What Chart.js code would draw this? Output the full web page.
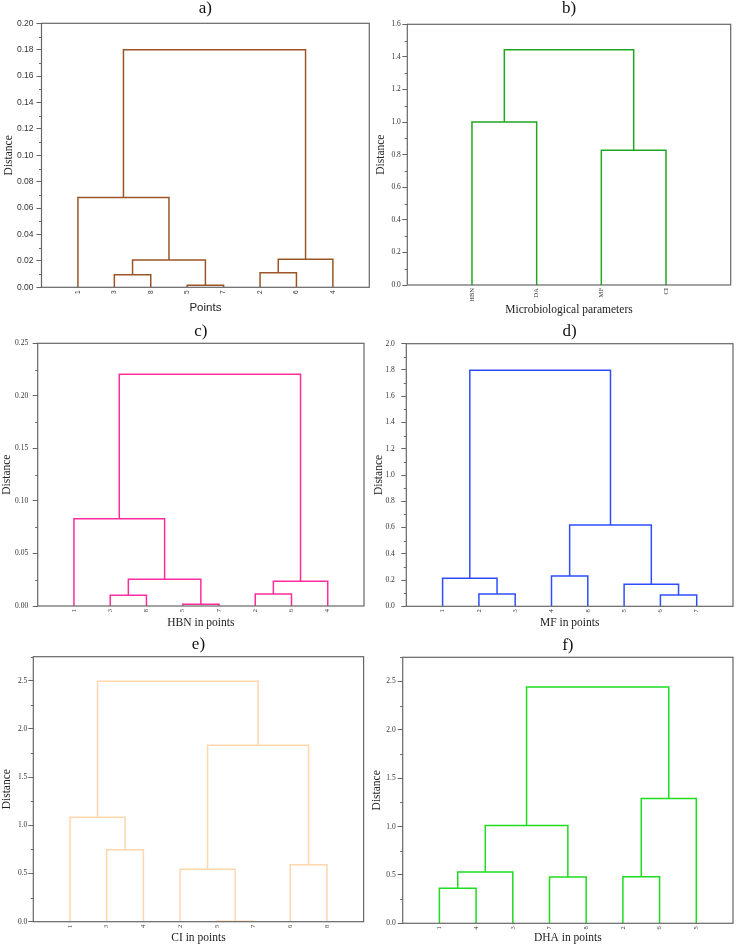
<!DOCTYPE html>
<html>
<head>
<meta charset="utf-8">
<script src="https://cdn.jsdelivr.net/npm/chart.js@4.4.1/dist/chart.umd.min.js"></script>
<style>
  html, body { margin: 0; padding: 0; background: #fff; }
  body { width: 736px; height: 945px; position: relative; overflow: hidden; }
  canvas { position: absolute; }
</style>
</head>
<body>
<canvas id="ca"></canvas>
<canvas id="cb"></canvas>
<canvas id="cc"></canvas>
<canvas id="cd"></canvas>
<canvas id="ce"></canvas>
<canvas id="cf"></canvas>
<script>
// leaf order on the x axis, then merges as [left node, right node, distance]
// a node below leaves.length is a leaf, otherwise it is merge (node - leaves.length)
const leavesA = ["1", "3", "8", "5", "7", "2", "6", "4"];
const mergesA = [[3, 4, 0.0015], [1, 2, 0.0095], [5, 6, 0.011], [9, 8, 0.0207], [10, 7, 0.0212], [0, 11, 0.068], [13, 12, 0.18]];

const leavesB = ["HBN", "DA", "MF", "CI"];
const mergesB = [[0, 1, 1.0], [2, 3, 0.827], [4, 5, 1.444]];

const leavesC = ["1", "3", "8", "5", "7", "2", "6", "4"];
const mergesC = [[3, 4, 0.0016], [1, 2, 0.0102], [5, 6, 0.0114], [9, 8, 0.0254], [10, 7, 0.0235], [0, 11, 0.0831], [13, 12, 0.2205]];

const leavesD = ["1", "2", "3", "4", "8", "5", "6", "7"];
const mergesD = [[1, 2, 0.094], [6, 7, 0.086], [3, 4, 0.231], [0, 8, 0.213], [5, 9, 0.168], [10, 12, 0.619], [11, 13, 1.797]];

const leavesE = ["1", "3", "4", "2", "5", "7", "6", "8"];
const mergesE = [[4, 5, 0.005], [1, 2, 0.747], [6, 7, 0.591], [3, 8, 0.544], [0, 9, 1.083], [11, 10, 1.83], [12, 13, 2.494]];

const leavesF = ["1", "4", "3", "7", "8", "2", "6", "5"];
const mergesF = [[0, 1, 0.362], [3, 4, 0.478], [5, 6, 0.482], [8, 2, 0.53], [11, 9, 1.012], [10, 7, 1.291], [12, 13, 2.444]];

const SERIF = "'Liberation Serif', 'Times New Roman', serif";
const SANS = "'Liberation Sans', Arial, sans-serif";

// turn merges into U shaped links in data units (leaf i sits at x = i + 1)
function buildLinks(leaves, merges) {
  const xs = leaves.map((_, i) => i + 1);
  const hs = leaves.map(() => 0);
  return merges.map(([l, r, d]) => {
    const pts = [
      { x: xs[l], y: hs[l] },
      { x: xs[l], y: d },
      { x: xs[r], y: d },
      { x: xs[r], y: hs[r] }
    ];
    xs.push((xs[l] + xs[r]) / 2);
    hs.push(d);
    return pts;
  });
}

// box frame + short minor ticks on the distance axis
const axisExtras = {
  id: "axisExtras",
  afterDraw(chart, args, opts) {
    const { ctx, chartArea: a, scales: { y } } = chart;
    ctx.save();
    ctx.strokeStyle = "#666";
    ctx.lineWidth = 1.2;
    ctx.strokeRect(a.left, a.top, a.right - a.left, a.bottom - a.top);
    ctx.lineWidth = 1;
    const count = Math.round(y.max / opts.minor);
    for (let i = 1; i <= count; i += 2) {
      const py = Math.round(y.getPixelForValue(i * opts.minor)) + 0.5;
      ctx.beginPath();
      ctx.moveTo(a.left - 2.5, py);
      ctx.lineTo(a.left, py);
      ctx.stroke();
    }
    ctx.restore();
  }
};

const panels = [
  { id: "ca", tag: "a)", leaves: leavesA, merges: mergesA, color: "#9a5526", xTitle: "Points", sans: true,
    yMax: 0.2, step: 0.02, minor: 0.01, digits: 2,
    box: [0, 0, 372, 315], left: 41.5, right: 2.7, xh: 27.7, tPad: [0, 6.3], yTitlePad: 2.4, tickPad: 3 },
  { id: "cb", tag: "b)", leaves: leavesB, merges: mergesB, color: "#1fa81f", xTitle: "Microbiological parameters",
    yMax: 1.6, step: 0.2, minor: 0.1, digits: 1,
    box: [368, 0, 368, 317], left: 39.3, right: 5.3, xh: 32, tPad: [0, 7.3], yTitlePad: 6.4, tickPad: 1.5 },
  { id: "cc", tag: "c)", leaves: leavesC, merges: mergesC, color: "#ff2d9b", xTitle: "HBN in points",
    yMax: 0.25, step: 0.05, minor: 0.025, digits: 2,
    box: [0, 315, 372, 315], left: 37.7, right: 8, xh: 24, tPad: [8, 3.3], yTitlePad: 0.4, tickPad: 4.5 },
  { id: "cd", tag: "d)", leaves: leavesD, merges: mergesD, color: "#2e4dff", xTitle: "MF in points",
    yMax: 2.0, step: 0.2, minor: 0.1, digits: 1,
    box: [368, 315, 368, 315], left: 38.3, right: 3, xh: 23.7, tPad: [8, 3.7], yTitlePad: 4.1, tickPad: 6.5 },
  { id: "ce", tag: "e)", leaves: leavesE, merges: mergesE, color: "#ffd6ae", xTitle: "CI in points",
    yMax: 2.75, step: 0.5, minor: 0.25, digits: 1,
    box: [0, 630, 372, 315], left: 33.3, right: 8.4, xh: 23.3, tPad: [6.5, 3.2], yTitlePad: 0, tickPad: 1 },
  { id: "cf", tag: "f)", leaves: leavesF, merges: mergesF, color: "#1edc1e", xTitle: "DHA in points",
    yMax: 2.75, step: 0.5, minor: 0.25, digits: 1,
    box: [368, 630, 368, 315], left: 34.7, right: 3, xh: 21.7, tPad: [7, 3.3], yTitlePad: 2.4, tickPad: 2 }
];

panels.forEach(p => {
  const canvas = document.getElementById(p.id);
  const [bx, by, bw, bh] = p.box;
  canvas.style.left = bx + "px";
  canvas.style.top = by + "px";
  canvas.width = bw;
  canvas.height = bh;
  const family = p.sans ? SANS : SERIF;
  const n = p.leaves.length;
  const links = buildLinks(p.leaves, p.merges);

  new Chart(canvas.getContext("2d"), {
    type: "scatter",
    data: {
      datasets: links.map(pts => ({
        data: pts,
        showLine: true,
        borderColor: p.color,
        borderWidth: 1.5,
        pointRadius: 0,
        tension: 0,
        fill: false
      }))
    },
    options: {
      responsive: false,
      animation: false,
      events: [],
      layout: { padding: { left: 0, top: 0, right: p.right, bottom: 0 } },
      plugins: {
        legend: { display: false },
        tooltip: { enabled: false },
        title: {
          display: true,
          text: p.tag,
          fullSize: false,
          color: "#111",
          font: { family: SERIF, size: 17, weight: "normal", lineHeight: 1 },
          padding: { top: p.tPad[0], bottom: p.tPad[1] }
        },
        axisExtras: { minor: p.minor }
      },
      scales: {
        x: {
          type: "linear",
          min: 0,
          max: n + 1,
          afterFit: s => {
            s.height = p.xh;
            s.paddingLeft = 0;
            s.paddingRight = 0;
          },
          grid: { display: false, drawTicks: false },
          border: { display: false },
          ticks: {
            stepSize: 1,
            autoSkip: false,
            minRotation: 90,
            maxRotation: 90,
            padding: 3,
            color: "#333",
            font: { family: family, size: 6.5 },
            callback: v => (Number.isInteger(v) && p.leaves[v - 1]) || ""
          },
          title: {
            display: true,
            text: p.xTitle,
            color: "#222",
            font: { family: family, size: 11.5, lineHeight: 1.2 },
            padding: 0
          }
        },
        y: {
          min: 0,
          max: p.yMax,
          afterFit: s => {
            s.width = p.left;
            s.paddingTop = 0;
            s.paddingBottom = 0;
          },
          grid: { drawOnChartArea: false, drawTicks: true, tickLength: 5, tickColor: "#666", tickWidth: 1 },
          border: { display: false },
          ticks: {
            stepSize: p.step,
            autoSkip: false,
            includeBounds: false,
            padding: p.tickPad,
            color: "#333",
            font: { family: family, size: p.sans ? 8.5 : 7.5 },
            callback: v => v.toFixed(p.digits)
          },
          title: {
            display: true,
            text: "Distance",
            color: "#222",
            font: { family: SERIF, size: 11.5, lineHeight: 1.2 },
            padding: { top: p.yTitlePad, bottom: 0 }
          }
        }
      }
    },
    plugins: [axisExtras]
  });
});
</script>
</body>
</html>
